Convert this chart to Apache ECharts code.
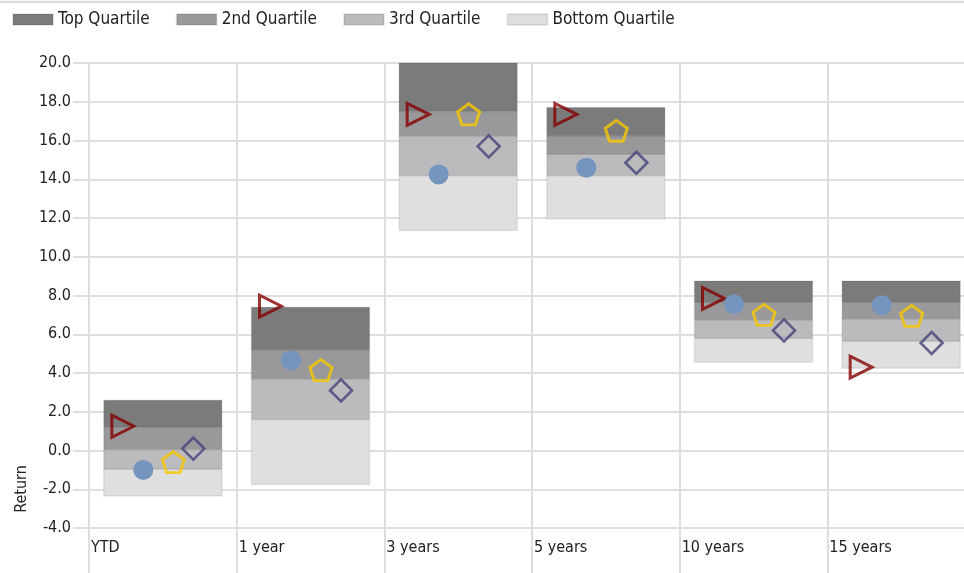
<!DOCTYPE html>
<html>
<head>
<meta charset="utf-8">
<script src="https://cdn.jsdelivr.net/npm/echarts@6/dist/echarts.min.js"></script>
<style>
  html, body { margin: 0; padding: 0; background: #fff; }
  #chart { width: 964px; height: 573px; }
</style>
</head>
<body>
<div id="chart"></div>
<script>
const FONT = "'Liberation Sans Narrow', 'DejaVu Sans Condensed', sans-serif"

const periods = ['YTD', '1 year', '3 years', '5 years', '10 years', '15 years']
const yTicks = { min: -4, max: 20, step: 2 }

// quartile boundaries, bottom to top
const boxLow = [-2.35, -1.75, 11.35, 11.95, 4.55, 4.25]
const bottomTop = [-0.95, 1.6, 14.2, 14.2, 5.8, 5.65]
const thirdTop = [0.05, 3.7, 16.25, 15.3, 6.75, 6.8]
const secondTop = [1.2, 5.2, 17.5, 16.25, 7.65, 7.65]
const boxHigh = [2.6, 7.4, 20.0, 17.7, 8.75, 8.75]

// point markers
const triangleVals = [1.25, 7.45, 17.35, 17.35, 7.85, 4.3]
const circleVals = [-1.0, 4.65, 14.25, 14.6, 7.55, 7.5]
const pentagonVals = [-0.6, 4.15, 17.35, 16.5, 7.0, 6.95]
const diamondVals = [0.1, 3.1, 15.7, 14.85, 6.2, 5.55]

const gridColor = '#dedede'
const pentagonPath = 'path://M0,-1 L0.951,-0.309 L0.588,0.809 L-0.588,0.809 L-0.951,-0.309 Z'

function quartile(name, lower, upper, color) {
  return {
    name,
    type: 'custom',
    encode: { x: 0, y: [1, 2] },
    itemStyle: { color, borderColor: 'rgba(0,0,0,0.08)', borderWidth: 1.5 },
    renderItem(params, api) {
      const i = api.value(0)
      const top = api.coord([i, api.value(2)])
      const bottom = api.coord([i, api.value(1)])
      const w = api.size([1, 0])[0] * 0.8
      return {
        type: 'rect',
        shape: { x: top[0] - w / 2, y: top[1], width: w, height: bottom[1] - top[1] },
        style: api.style()
      }
    },
    data: periods.map((p, i) => [i, lower[i], upper[i]])
  }
}

function marker(name, values, symbol, size, offset, style, rotate) {
  return {
    name,
    type: 'scatter',
    symbol,
    symbolSize: size,
    symbolOffset: [offset, 0],
    symbolRotate: rotate || 0,
    itemStyle: style,
    z: 5,
    data: values
  }
}

const chart = echarts.init(document.getElementById('chart'))

chart.setOption({
  animation: false,
  textStyle: { fontFamily: FONT },
  legend: {
    left: 12,
    top: 11,
    padding: 0,
    itemWidth: 40,
    itemHeight: 11,
    itemGap: 26,
    icon: 'rect',
    data: ['Top Quartile', '2nd Quartile', '3rd Quartile', 'Bottom Quartile'],
    textStyle: { fontFamily: FONT, fontSize: 17, color: '#222' }
  },
  grid: [
    { left: 89, top: 63, width: 886, height: 465, containLabel: false, outerBoundsMode: 'none' },
    // strip under the plot, only for the category dividers running to the bottom edge
    { left: 89, top: 528, width: 886, height: 45, containLabel: false, outerBoundsMode: 'none' }
  ],
  xAxis: [
    {
      type: 'category',
      gridIndex: 0,
      data: periods,
      boundaryGap: true,
      axisLine: { show: true, lineStyle: { color: gridColor, width: 2 } },
      axisTick: { show: false },
      axisLabel: { show: false },
      splitLine: { show: true, interval: 0, lineStyle: { color: gridColor, width: 2 } }
    },
    {
      type: 'category',
      gridIndex: 0,
      position: 'bottom',
      data: periods.concat(['']),
      boundaryGap: false,
      axisLine: { show: false },
      axisTick: { show: false },
      splitLine: { show: false },
      axisLabel: {
        interval: 0,
        align: 'left',
        margin: 12,
        padding: [0, 0, 0, 2],
        fontFamily: FONT,
        fontSize: 16,
        color: '#222'
      }
    },
    {
      type: 'category',
      gridIndex: 1,
      data: periods,
      boundaryGap: true,
      axisLine: { show: false },
      axisTick: { show: false },
      axisLabel: { show: false },
      splitLine: { show: true, interval: 0, lineStyle: { color: gridColor, width: 2 } }
    }
  ],
  yAxis: [
    {
      type: 'value',
      gridIndex: 0,
      min: yTicks.min,
      max: yTicks.max,
      interval: yTicks.step,
      axisLine: { show: true, lineStyle: { color: gridColor, width: 2 } },
      axisTick: { show: true, length: 16, lineStyle: { color: gridColor, width: 2 } },
      axisLabel: {
        margin: 18,
        fontFamily: FONT,
        fontSize: 16,
        color: '#222',
        formatter: v => v.toFixed(1)
      },
      splitLine: { lineStyle: { color: gridColor, width: 2 } }
    },
    {
      type: 'value',
      gridIndex: 1,
      min: 0,
      max: 1,
      axisLine: { show: true, lineStyle: { color: gridColor, width: 2 } },
      axisTick: { show: false },
      axisLabel: { show: false },
      splitLine: { show: false }
    }
  ],
  graphic: [
    {
      type: 'line',
      shape: { x1: 0, y1: 2, x2: 964, y2: 2 },
      style: { stroke: '#dcdcdc', lineWidth: 2.5 }
    },
    {
      type: 'text',
      x: 22,
      y: 489,
      rotation: Math.PI / 2,
      style: {
        text: 'Return',
        font: '16px ' + FONT,
        fill: '#222',
        align: 'center',
        verticalAlign: 'middle'
      }
    }
  ],
  series: [
    quartile('Bottom Quartile', boxLow, bottomTop, '#dfdfdf'),
    quartile('3rd Quartile', bottomTop, thirdTop, '#bbbbbd'),
    quartile('2nd Quartile', thirdTop, secondTop, '#99999b'),
    quartile('Top Quartile', secondTop, boxHigh, '#7b7b7c'),
    marker('Fund', triangleVals, 'triangle', 22, -40,
      { color: 'rgba(0,0,0,0)', borderColor: '#860000', borderWidth: 3 }, -90),
    marker('Category', circleVals, 'circle', 20, -19.5,
      { color: '#7594be', opacity: 1 }),
    marker('Index', pentagonVals, pentagonPath, [22, 21], 10.5,
      { color: 'rgba(0,0,0,0)', borderColor: '#f7c800', borderWidth: 3 }),
    marker('Benchmark', diamondVals, 'diamond', 22, 30.5,
      { color: 'rgba(0,0,0,0)', borderColor: '#45447a', borderWidth: 2.6 })
  ]
})
</script>
</body>
</html>
